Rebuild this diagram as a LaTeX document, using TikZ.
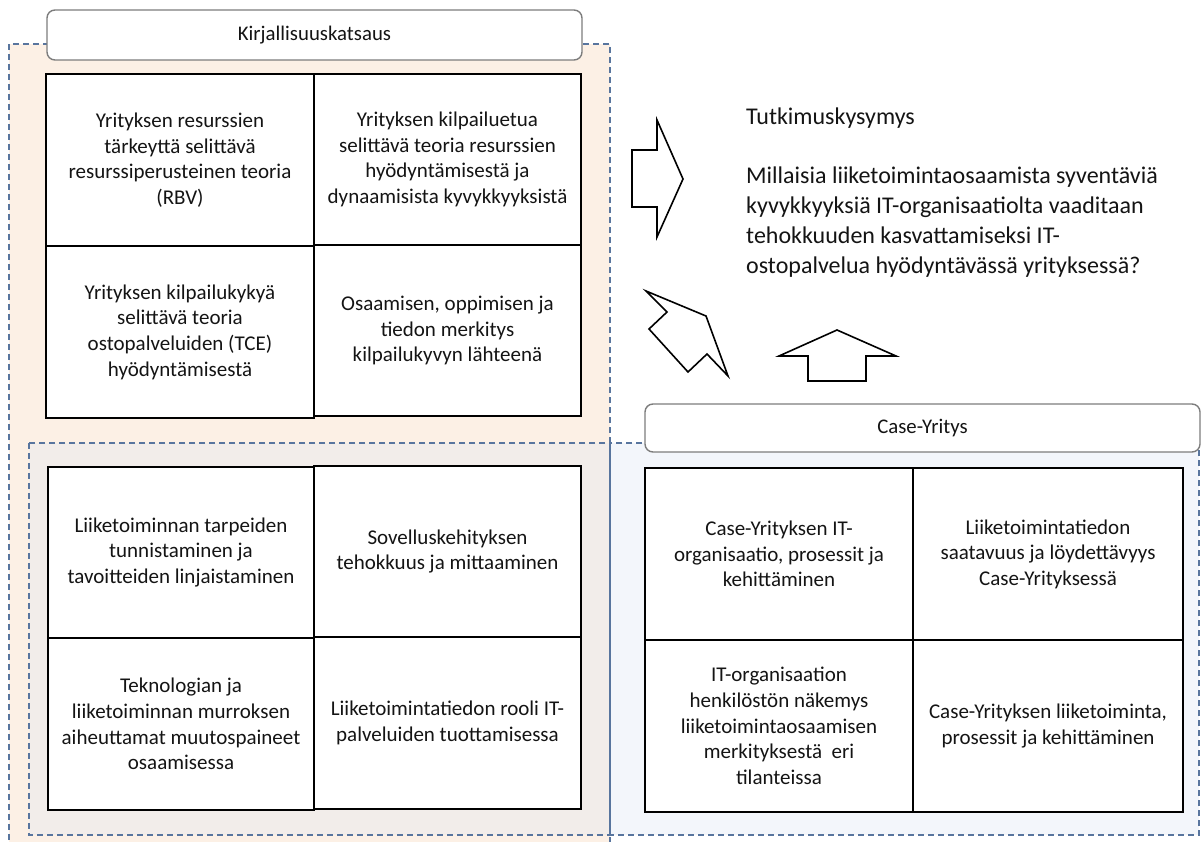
\documentclass[tikz,border=0pt]{standalone}
\usepackage{fontspec}
\setmainfont{Carlito}
\definecolor{litfill}{RGB}{252,240,229}
\definecolor{sharedfill}{RGB}{242,237,234}
\definecolor{casefill}{RGB}{243,246,251}
\definecolor{dashblue}{RGB}{88,117,158}
\definecolor{titlegray}{RGB}{125,125,125}
\definecolor{ink}{RGB}{20,20,20}
\begin{document}
\begin{tikzpicture}[x=1pt,y=-1pt,
  region/.style={draw=dashblue, line width=1.4pt, dash pattern=on 6pt off 4pt},
  titlebox/.style={draw=titlegray, line width=1.4pt, fill=white, rounded corners=8pt,
    inner sep=0pt, text=ink, font={\fontsize{20.8}{24}\selectfont}},
  cell/.style={draw=black, line width=1.8pt, fill=white, inner sep=0pt, text=ink,
    align=center, font={\fontsize{21}{25.6}\selectfont}},
  bigarrow/.style={draw=black, line width=1.6pt, fill=white, line join=miter}]
\useasboundingbox (0,0) rectangle (1201,842);
\clip (0,0) rectangle (1201,842);

% shaded areas
\fill[litfill] (9,44) rectangle (610,850);
\fill[sharedfill] (29,443) rectangle (610,835);
\fill[casefill] (610,443) rectangle (1199,835);
\draw[region] (9,850) -- (9,44) -- (610,44) -- (610,850);
\draw[region] (29,443) rectangle (610,835);
\draw[region] (610,443) rectangle (1199,835);

% headers
\node[titlebox, minimum width=535pt, minimum height=50pt] (lit) at (314.5,35) {Kirjallisuuskatsaus};
\node[titlebox, minimum width=555pt, minimum height=48pt] (case) at (922.5,428) {Case-Yritys};

% literature review cells
\node[cell, minimum width=268pt, minimum height=172pt] (rbv) at (180,160)
  {Yrityksen resurssien\\tärkeyttä selittävä\\resurssiperusteinen teoria\\(RBV)};
\node[cell, minimum width=267pt, minimum height=171pt] (dyn) at (447.5,159.5)
  {Yrityksen kilpailuetua\\selittävä teoria resurssien\\hyödyntämisestä ja\\dynaamisista kyvykkyyksistä};
\node[cell, minimum width=268pt, minimum height=172pt] (tce) at (180,332)
  {Yrityksen kilpailukykyä\\selittävä teoria\\ostopalveluiden (TCE)\\hyödyntämisestä};
\node[cell, minimum width=267pt, minimum height=171pt] (osa) at (447.5,330.5)
  {Osaamisen, oppimisen ja\\tiedon merkitys\\kilpailukyvyn lähteenä};

% shared themes
\node[cell, minimum width=266pt, minimum height=171pt] (tarp) at (181,552.5)
  {Liiketoiminnan tarpeiden\\tunnistaminen ja\\tavoitteiden linjaistaminen};
\node[cell, minimum width=267pt, minimum height=171pt] (sov) at (447.5,551.5)
  {Sovelluskehityksen\\tehokkuus ja mittaaminen};
\node[cell, minimum width=266pt, minimum height=172pt] (tek) at (181,724)
  {Teknologian ja\\liiketoiminnan murroksen\\aiheuttamat muutospaineet\\osaamisessa};
\node[cell, minimum width=267pt, minimum height=172pt] (rool) at (447.5,723)
  {Liiketoimintatiedon rooli IT-\\palveluiden tuottamisessa};

% case company cells
\node[cell, minimum width=268pt, minimum height=172pt] (org) at (779,554)
  {Case-Yrityksen IT-\\organisaatio, prosessit ja\\kehittäminen};
\node[cell, minimum width=270pt, minimum height=172pt] (saa) at (1048,554)
  {Liiketoimintatiedon\\saatavuus ja löydettävyys\\Case-Yrityksessä};
\node[cell, minimum width=268pt, minimum height=172pt] (hen) at (779,726)
  {IT-organisaation\\henkilöstön näkemys\\liiketoimintaosaamisen\\merkityksestä\ \ eri\\tilanteissa};
\node[cell, minimum width=270pt, minimum height=172pt] (lii) at (1048,726)
  {Case-Yrityksen liiketoiminta,\\prosessit ja kehittäminen};

% research question (base anchor sits on the last line)
\node[anchor=base west, align=left, inner sep=0pt, text=ink,
  font={\fontsize{24}{29.8}\selectfont}] (rq) at (746,273)
  {Tutkimuskysymys\\[29.8pt]Millaisia liiketoimintaosaamista syventäviä\\kyvykkyyksiä IT-organisaatiolta vaaditaan\\tehokkuuden kasvattamiseksi IT-\\ostopalvelua hyödyntävässä yrityksessä?};

% block arrows
\draw[bigarrow] (632,150) -- (657,150) -- (657,120) -- (683,179) -- (657,237)
  -- (657,207) -- (632,207) -- cycle;
\draw[bigarrow] (646,291) -- (706,316) -- (728,376) -- (707,354) -- (688,372)
  -- (649,329) -- (667,312) -- cycle;
\draw[bigarrow] (779,356) -- (837,330) -- (896,356) -- (866,356) -- (866,381)
  -- (808,381) -- (808,356) -- cycle;
\end{tikzpicture}
\end{document}
